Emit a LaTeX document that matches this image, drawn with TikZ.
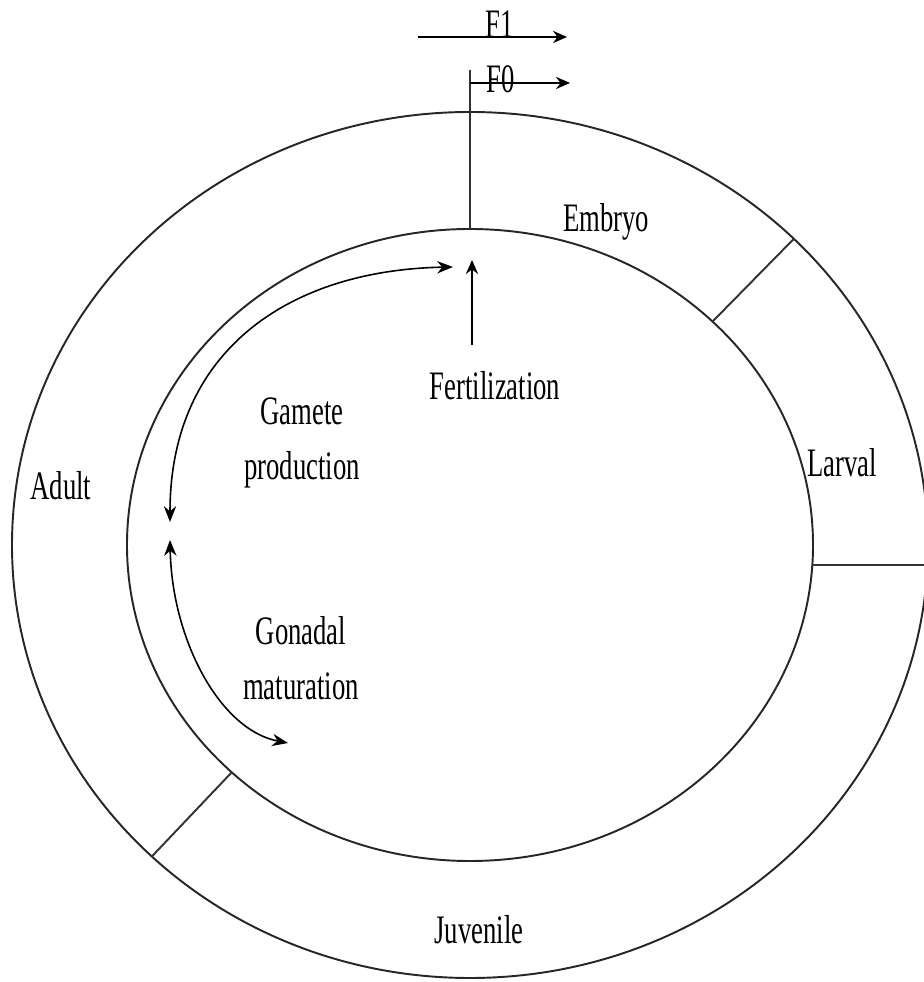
\documentclass[tikz,border=0pt]{standalone}
\usepackage{fontspec}
\setmainfont{Liberation Serif}
\usepackage{graphicx}
\usepackage{tikz}
\usetikzlibrary{arrows.meta, positioning}

\newcommand{\squeeze}[1]{\scalebox{0.66}[1]{#1}}

\begin{document}
\begin{tikzpicture}[
        x=0.02cm, y=0.02cm,
        ring/.style={draw=black!85, line width=1.1pt},
        divider/.style={draw=black!80, line width=1.1pt},
        label/.style={font=\fontsize{23}{31}\selectfont, inner sep=0pt, align=center},
        arrow/.style={<->, >={Stealth[length=9pt, width=7pt]}, line width=0.9pt, color=black},
        genarrow/.style={->, >={Stealth[length=8pt, width=7pt]}, line width=0.9pt, color=black}
    ]
        \useasboundingbox (-470,-437) rectangle (453,545);

        % Life cycle rings
        \coordinate (centre) at (0,0);
        \draw[ring] (centre) ellipse [x radius=458, y radius=433];
        \draw[ring] (centre) ellipse [x radius=343, y radius=316];

        % Stage boundaries
        \coordinate (topin) at (90:343 and 316);
        \coordinate (toptick) at (0,475);
        \coordinate (embin) at (45:343 and 316);
        \coordinate (embout) at (45:458 and 433);
        \coordinate (larin) at (-3.63:343 and 316);
        \coordinate (larout) at (-2.65:458 and 433);
        \coordinate (juvin) at (226:343 and 316);
        \coordinate (juvout) at (226:458 and 433);
        \draw[divider, line width=0.9pt] (topin) -- (toptick);
        \draw[divider] (embin) -- (embout);
        \draw[divider] (larin) -- (larout);
        \draw[divider] (juvin) -- (juvout);

        % Generations
        \coordinate (f1start) at (-52,508);
        \coordinate (f1end) at (97,508);
        \coordinate (f0start) at (0,462);
        \coordinate (f0end) at (100,462);
        \draw[genarrow] (f1start) -- (f1end);
        \draw[genarrow] (f0start) -- (f0end);
        \node[label, anchor=base] (f1) at (30,507) {\squeeze{F1}};
        \node[label, anchor=base] (f0) at (31,452) {\squeeze{F0}};

        % Stage names
        \node[label, anchor=base] (embryo) at (136,313) {\squeeze{Embryo}};
        \node[label, anchor=base] (larval) at (372,68) {\squeeze{Larval}};
        \node[label, anchor=base] (juvenile) at (9,-398) {\squeeze{Juvenile}};
        \node[label, anchor=base] (adult) at (-409,45) {\squeeze{Adult}};

        % Inner events
        \node[label, anchor=base] (fert) at (25,145) {\squeeze{Fertilization}};
        \node[label] (gamete) at (-168,102) {\squeeze{Gamete}\\\squeeze{production}};
        \node[label] (gonad) at (-169,-113) {\squeeze{Gonadal}\\\squeeze{maturation}};

        % Arrows
        \coordinate (fertfoot) at (2,200);
        \coordinate (ferttip) at (2,285);
        \draw[genarrow] (fertfoot) -- (ferttip);
        \coordinate (gamlow) at (-300,23);
        \coordinate (gamhigh) at (-17,278);
        \draw[arrow] (gamlow) .. controls (-300,195) and (-180,275) .. (gamhigh);
        \coordinate (gonhigh) at (-300,5);
        \coordinate (gonlow) at (-182,-198);
        \draw[arrow] (gonhigh) .. controls (-298,-95) and (-250,-185) .. (gonlow);

    \end{tikzpicture}
\end{document}
